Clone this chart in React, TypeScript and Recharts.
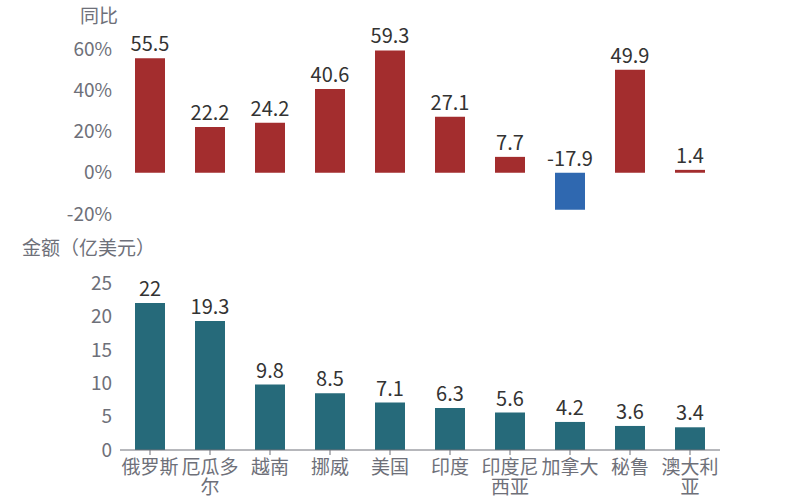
import React from "react";
import { BarChart, Bar, XAxis, YAxis, Cell, LabelList } from "recharts";

const countries = ["俄罗斯", "厄瓜多尔", "越南", "挪威", "美国", "印度", "印度尼西亚", "加拿大", "秘鲁", "澳大利亚"];
const yoyValues = [55.5, 22.2, 24.2, 40.6, 59.3, 27.1, 7.7, -17.9, 49.9, 1.4];
const amountValues = [22, 19.3, 9.8, 8.5, 7.1, 6.3, 5.6, 4.2, 3.6, 3.4];
const yoyTicks = [-20, 0, 20, 40, 60];
const amountTicks = [0, 5, 10, 15, 20, 25];

const data = countries.map((name, i) => ({ name, yoy: yoyValues[i], amount: amountValues[i] }));

const FONT = '"Noto Sans CJK SC", "Noto Sans", sans-serif';
const AXIS_GREY = "#6e7079";
const LABEL_DARK = "#333";

const TopLabel = (props: any) => {
    const { x, y, width, height, value } = props;
    const top = Math.min(y, y + height);
    return (
        <text x={x + width / 2} y={top - 7} textAnchor="middle" fill={LABEL_DARK} fontSize={20} fontFamily={FONT}>
            {value}
        </text>
    );
};

// category names wrap after 3 characters
const WrapTick = (props: any) => {
    const { x, y, payload } = props;
    const text: string = payload.value;
    const lines: string[] = [];
    for (let i = 0; i < text.length; i += 3) lines.push(text.slice(i, i + 3));
    return (
        <text x={x} y={y} textAnchor="middle" fill={AXIS_GREY} fontSize={19} fontFamily={FONT}>
            {lines.map((l, i) => (
                <tspan key={i} x={x} dy={i === 0 ? 17 : 20}>
                    {l}
                </tspan>
            ))}
        </text>
    );
};

const tickStyle = { fill: AXIS_GREY, fontSize: 19, fontFamily: FONT };

export default function App() {
    return (
        <div style={{ position: "absolute", left: 0, top: 0, width: 800, height: 500, background: "#fff", fontFamily: FONT }}>
            <div style={{ position: "absolute", left: 80, top: 1, fontSize: 19, color: AXIS_GREY }}>同比</div>
            <div style={{ position: "absolute", left: 22, top: 233, fontSize: 19, color: AXIS_GREY }}>金额（亿美元）</div>
            <div style={{ position: "absolute", left: 0, top: 0 }}>
                <BarChart width={800} height={240} data={data} margin={{ top: 49, right: 80, bottom: 26, left: 60 }}>
                    <XAxis dataKey="name" hide />
                    <YAxis
                        width={60}
                        domain={[-20, 60]}
                        ticks={yoyTicks}
                        tickFormatter={(v) => `${v}%`}
                        axisLine={false}
                        tickLine={false}
                        tick={tickStyle}
                        interval={0}
                    />
                    <Bar dataKey="yoy" barSize={30} isAnimationActive={false}>
                        {data.map((d, i) => (
                            <Cell key={i} fill={d.yoy < 0 ? "#2f68b0" : "#a32d2e"} />
                        ))}
                        <LabelList dataKey="yoy" content={TopLabel} />
                    </Bar>
                </BarChart>
            </div>
            <div style={{ position: "absolute", left: 0, top: 240 }}>
                <BarChart width={800} height={260} data={data} margin={{ top: 43, right: 80, bottom: 0, left: 60 }}>
                    <XAxis
                        dataKey="name"
                        interval={0}
                        height={50}
                        axisLine={{ stroke: AXIS_GREY }}
                        tickLine={{ stroke: AXIS_GREY }}
                        tickSize={5}
                        tick={<WrapTick />}
                    />
                    <YAxis
                        width={60}
                        domain={[0, 25]}
                        ticks={amountTicks}
                        axisLine={false}
                        tickLine={false}
                        tick={tickStyle}
                        interval={0}
                    />
                    <Bar dataKey="amount" barSize={30} fill="#266a7a" isAnimationActive={false}>
                        <LabelList dataKey="amount" content={TopLabel} />
                    </Bar>
                </BarChart>
            </div>
        </div>
    );
}
